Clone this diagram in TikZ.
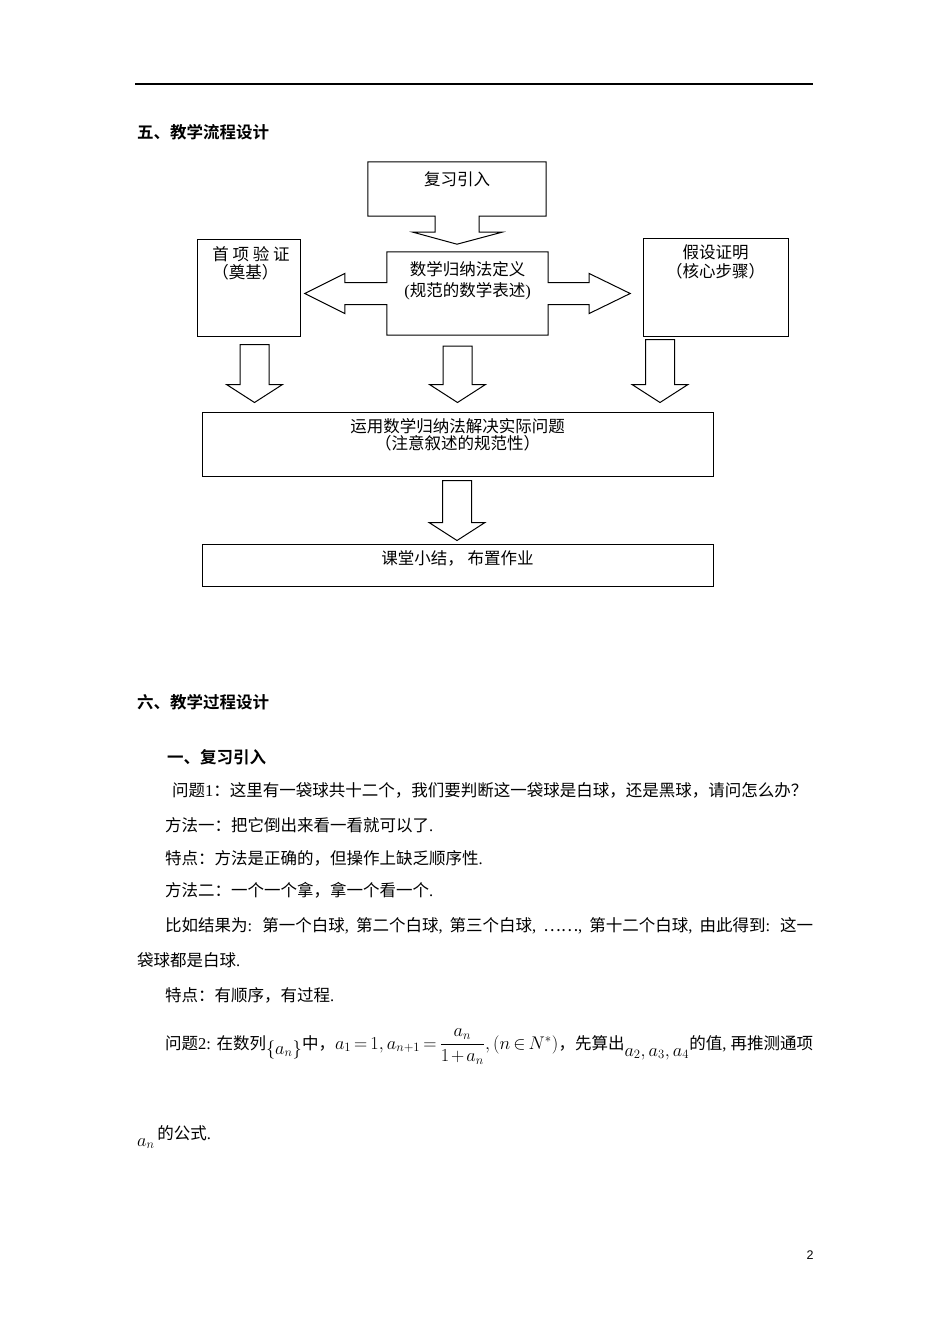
\documentclass[tikz,border=0pt]{standalone}
\usepackage{amsmath}
\usepackage{graphicx}
\usepackage{fontspec}
\setmainfont{Liberation Serif}
\newfontfamily\cjk{Noto Sans CJK SC}[BoldFont={Noto Sans CJK SC Bold}]
\newfontfamily\pgnum{Liberation Sans}
\newcommand{\latn}[1]{{\rmfamily #1}}
\newcommand{\mth}[1]{\scalebox{1.06}{$\thickmuskip=3mu \medmuskip=2mu #1$}}
\usetikzlibrary{calc}

\begin{document}
\begin{tikzpicture}[x=1pt, y=-1pt,
    box/.style={draw, line width=1pt, inner sep=0pt},
    shell/.style={inner sep=0pt},
    blockarrow/.style={draw, line width=1pt, line join=miter},
    txt/.style={font=\cjk\fontsize{16.5}{19}\selectfont, inner sep=0pt, align=center},
    para/.style={font=\cjk\fontsize{16.5}{20}\selectfont, inner sep=0pt, anchor=west},
    head/.style={font=\cjk\bfseries\fontsize{16.5}{20}\selectfont, inner sep=0pt, anchor=west}
]
\path[fill=white] (0,0) rectangle (950,1344);
\useasboundingbox (0,0) rectangle (950,1344);

% Page rule and heading
\draw[line width=1.2pt] (135,84) -- (813,84);
\node[head] (h5) at (137,132) {五、教学流程设计};

% Boxes of the flow chart
\node[shell, minimum width=178pt, minimum height=54pt] (review) at (457,189) {};
\node[box, minimum width=103pt, minimum height=97pt] (first) at (248.5,287.5) {};
\node[shell, minimum width=161pt, minimum height=83pt] (defn) at (467.5,293.5) {};
\node[box, minimum width=145pt, minimum height=98pt] (hyp) at (715.5,287) {};
\node[box, minimum width=511pt, minimum height=64pt] (apply) at (457.5,444) {};
\node[box, minimum width=511pt, minimum height=42pt] (summary) at (457.5,565) {};

% Texts in the boxes
\node[txt] (reviewtxt) at ($(review.north)+(0,17)$) {复习引入};
\node[txt, align=left] (firsttxt) at ($(first.north)+(2.5,25)$) {首 项 验 证\\[-1pt]（奠基）};
\node[txt] (defntxt) at ($(defn.north)+(0,28.5)$) {数学归纳法定义\\[2pt]\latn{(}规范的数学表述\latn{)}};
\node[txt] (hyptxt) at ($(hyp.north)+(0,24.5)$) {假设证明\\（核心步骤）};
\node[txt] (applytxt) at ($(apply.north)+(0,23.5)$) {运用数学归纳法解决实际问题\\[-2pt]（注意叙述的规范性）};
\node[txt] (summarytxt) at ($(summary.north)+(0,15)$) {课堂小结， 布置作业};

% Callout with arrow down
\draw[blockarrow] (review.north west) -- (review.north east) -- (review.south east)
  -- ($(review.south)+(22,0)$) -- ($(review.south)+(22,16)$) -- ($(review.south)+(45,16)$)
  -- ($(review.south)+(0,28)$) -- ($(review.south)+(-44,16)$) -- ($(review.south)+(-22,16)$)
  -- ($(review.south)+(-22,0)$) -- (review.south west) -- cycle;

% Callout with arrows left and right
\draw[blockarrow] (defn.north west) -- (defn.north east)
  -- ($(defn.east)+(0,-11)$) -- ($(defn.east)+(41,-11)$) -- ($(defn.east)+(41,-20)$)
  -- ($(defn.east)+(82,0)$) -- ($(defn.east)+(41,20)$) -- ($(defn.east)+(41,11)$)
  -- ($(defn.east)+(0,11)$) -- (defn.south east) -- (defn.south west)
  -- ($(defn.west)+(0,11)$) -- ($(defn.west)+(-42,11)$) -- ($(defn.west)+(-42,20)$)
  -- ($(defn.west)+(-82,0)$) -- ($(defn.west)+(-42,-20)$) -- ($(defn.west)+(-42,-11)$)
  -- ($(defn.west)+(0,-11)$) -- cycle;

% Block arrows down
\foreach \src/\dst/\cx/\ga/\gb in {first/apply/254.5/8/9, defn/apply/457.5/11/9, hyp/apply/660/3/9, apply/summary/457/4/3} {
  \coordinate (t) at (\cx,0 |- \src.south);
  \coordinate (b) at (\cx,0 |- \dst.north);
  \draw[blockarrow] ($(t)+(-14.5,\ga)$) -- ($(t)+(14.5,\ga)$) -- ($(b)+(14.5,-\gb-18)$)
    -- ($(b)+(28,-\gb-18)$) -- ($(b)+(0,-\gb)$) -- ($(b)+(-28,-\gb-18)$)
    -- ($(b)+(-14.5,-\gb-18)$) -- cycle;
}

% Running text
\node[head] (h6) at (137,702) {六、教学过程设计};
\node[head] (h61) at (167,757) {一、复习引入};
\node[para] (q1) at (172,790) {问题\latn{1}：这里有一袋球共十二个，我们要判断这一袋球是白球，还是黑球，请问怎么办？};
\node[para] (m1) at (165,825) {方法一：把它倒出来看一看就可以了\latn{.}};
\node[para] (f1) at (165,858) {特点：方法是正确的，但操作上缺乏顺序性\latn{.}};
\node[para] (m2) at (165,890) {方法二：一个一个拿，拿一个看一个\latn{.}};
\node[para] (ex) at (165,926) {\makebox[648pt][s]{比如结果为\latn{: }第一个白球\latn{, }第二个白球\latn{, }第三个白球\latn{, }……\latn{, }第十二个白球\latn{, }由此得到\latn{: }这一}};
\node[para] (ex2) at (137,960) {袋球都是白球\latn{.}};
\node[para] (f2) at (165,995) {特点：有顺序，有过程\latn{.}};
\node[para, anchor=base west] (q2) at (165,1049) {\makebox[648pt][s]{问题\latn{2: }在数列\raisebox{-5pt}{\mth{\{a_n\}}}\hfill 中，\mth{a_1=1,a_{n+1}=\dfrac{a_n}{1+a_n},(n\in N^*)}\hfill ，先算出\raisebox{-7pt}{\mth{a_2,a_3,a_4}}\hfill 的值\latn{, }再推测通项}};
\node[para, anchor=base west] (q2end) at (137,1139) {\raisebox{-7pt}{\mth{a_n}}\,的公式\latn{.}};

% Page number
\node[font=\pgnum\fontsize{12.5}{14}\selectfont, inner sep=0pt] (pg) at (810,1255) {2};
\end{tikzpicture}
\end{document}
